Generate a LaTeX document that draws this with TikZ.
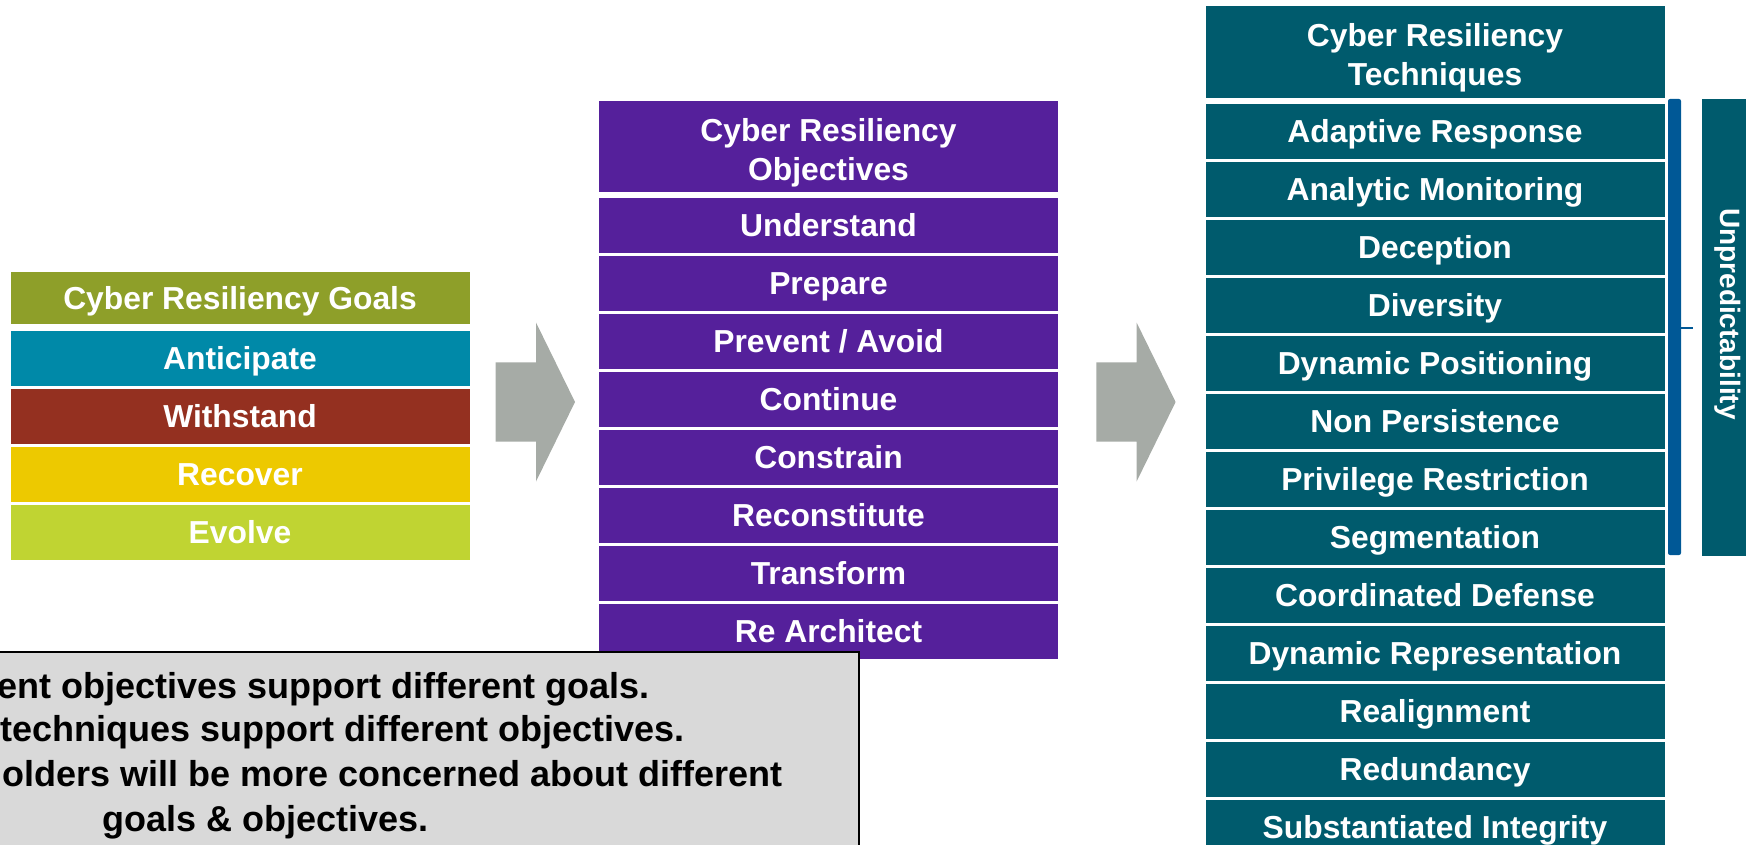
\documentclass[tikz,border=0pt]{standalone}
\usepackage{fontspec}
\setmainfont{Liberation Sans}
\usepackage{xcolor}
\usepackage{tikz}
\usetikzlibrary{positioning}

\definecolor{goalolive}{RGB}{142,159,41}
\definecolor{goalblue}{RGB}{0,137,168}
\definecolor{goalred}{RGB}{148,48,32}
\definecolor{goalyellow}{RGB}{237,201,0}
\definecolor{goalgreen}{RGB}{192,212,50}
\definecolor{objpurple}{RGB}{85,32,155}
\definecolor{techteal}{RGB}{0,91,109}
\definecolor{arrowgray}{RGB}{166,171,166}
\definecolor{braceblue}{RGB}{0,88,150}
\definecolor{notegray}{RGB}{217,217,217}

\newcommand{\cellfont}{\fontsize{31.8pt}{37.3pt}\selectfont\bfseries}
\newcommand{\headfont}{\fontsize{31.8pt}{39pt}\selectfont\bfseries}
\newcommand{\notefont}{\fontsize{36pt}{44.5pt}\selectfont\bfseries}

\begin{document}
\begin{tikzpicture}[
    x=1pt, y=-1pt,
    node distance=2.6pt,
    every node/.style={font=\cellfont, text=white},
    box/.style={minimum width=459pt, minimum height=55pt, inner sep=0pt,
                text height=22.8pt, text depth=0pt},
    head/.style={minimum width=459pt, inner sep=0pt, align=center, font=\headfont,
                 text height=67.8pt, text depth=0pt},
    bigarrow/.style={fill=arrowgray},
    note/.style={fill=notegray, draw=black, line width=2pt},
    notetext/.style={font=\notefont, text=black, inner sep=0pt, anchor=base west},
]
\useasboundingbox (0,0) rectangle (1746,845);

% goals
\node[box, fill=goalolive, minimum height=51.7pt] (goals) at (240,298.2) {Cyber Resiliency Goals};
\node[box, fill=goalblue]                 (anticipate) at (240,358)   {Anticipate};
\node[box, fill=goalred, below=of anticipate]  (withstand) {Withstand};
\node[box, fill=goalyellow, below=of withstand] (recover)  {Recover};
\node[box, fill=goalgreen, below=of recover]    (evolve)   {Evolve};

% objectives
\node[head, fill=objpurple, minimum height=91pt] (objs) at (828.5,146.5) {Cyber Resiliency\\Objectives};
\node[box, fill=objpurple]                      (understand) at (828.5,225.5) {Understand};
\node[box, fill=objpurple, below=of understand] (prepare)     {Prepare};
\node[box, fill=objpurple, below=of prepare]    (prevent)     {Prevent / Avoid};
\node[box, fill=objpurple, below=of prevent]    (continue)    {Continue};
\node[box, fill=objpurple, below=of continue]   (constrain)   {Constrain};
\node[box, fill=objpurple, below=of constrain]  (reconst)     {Reconstitute};
\node[box, fill=objpurple, below=of reconst]    (transform)   {Transform};
\node[box, fill=objpurple, below=of transform]  (rearch)      {Re Architect};

% techniques
\node[head, fill=techteal, minimum height=91.7pt] (techs) at (1435,51.9) {Cyber Resiliency\\Techniques};
\node[box, fill=techteal]                      (adaptive)  at (1435,131.5) {Adaptive Response};
\node[box, fill=techteal, below=of adaptive]   (analytic)  {Analytic Monitoring};
\node[box, fill=techteal, below=of analytic]   (deception) {Deception};
\node[box, fill=techteal, below=of deception]  (diversity) {Diversity};
\node[box, fill=techteal, below=of diversity]  (dynpos)    {Dynamic Positioning};
\node[box, fill=techteal, below=of dynpos]     (nonpers)   {Non Persistence};
\node[box, fill=techteal, below=of nonpers]    (privrestr) {Privilege Restriction};
\node[box, fill=techteal, below=of privrestr]  (segment)   {Segmentation};
\node[box, fill=techteal, below=of segment]    (coord)     {Coordinated Defense};
\node[box, fill=techteal, below=of coord]      (dynrep)    {Dynamic Representation};
\node[box, fill=techteal, below=of dynrep]     (realign)   {Realignment};
\node[box, fill=techteal, below=of realign]    (redund)    {Redundancy};
\node[box, fill=techteal, below=of redund]     (substint)  {Substantiated Integrity};

% block arrows between the columns
\fill[bigarrow, shift={(495.7,402)}] (0,-39.7) -- (40.3,-39.7) -- (40.3,-79.5) -- (79.3,0)
    -- (40.3,79.5) -- (40.3,39.7) -- (0,39.7) -- cycle;
\fill[bigarrow, shift={(1096.3,402)}] (0,-39.7) -- (40.3,-39.7) -- (40.3,-79.5) -- (79.3,0)
    -- (40.3,79.5) -- (40.3,39.7) -- (0,39.7) -- cycle;

% brace and side bar
\fill[braceblue, rounded corners=2pt] (1668,99) rectangle (1681,555);
\draw[braceblue, line width=2pt] (1680,327.7) -- (1693,327.7);
\node[fill=techteal, minimum width=60pt, minimum height=457pt, inner sep=0pt, anchor=north west]
    (unpredbar) at (1702,99) {};
\node[rotate=-90, font=\fontsize{28pt}{33pt}\selectfont\bfseries, inner sep=0pt,
      text height=20pt, text depth=0pt] (unpred) at (1730,314) {Unpredictability};

% note box
\draw[note] (-10,651.7) rectangle (859.4,870);
\node[notetext] (note1) at (-3,698.3)  {ent objectives support different goals.};
\node[notetext] (note2) at (0,741.7)   {techniques support different objectives.};
\node[notetext] (note3) at (2,786.7)   {olders will be more concerned about different};
\node[notetext] (note4) at (102,831.7) {goals \& objectives.};
\end{tikzpicture}
\end{document}
